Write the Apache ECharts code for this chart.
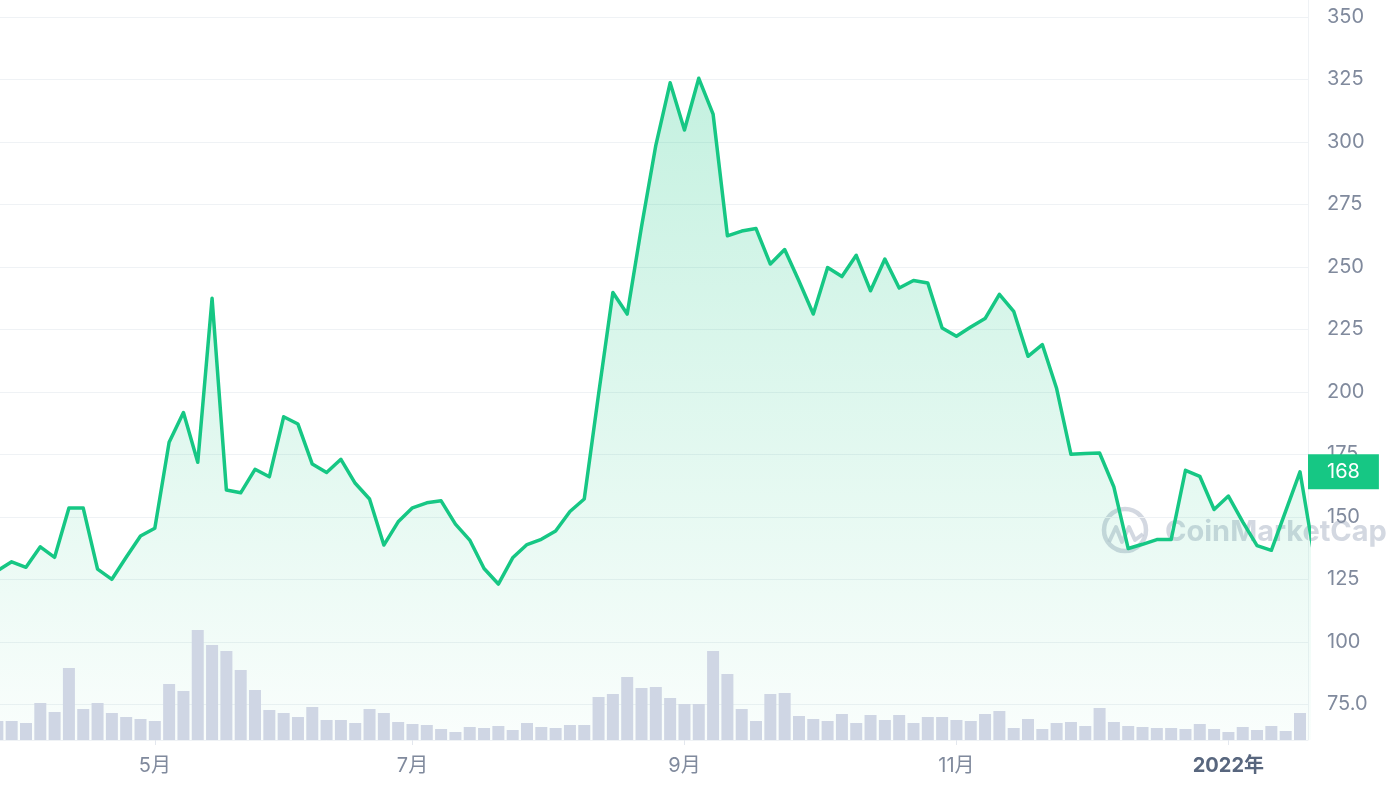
<!DOCTYPE html>
<html><head><meta charset="utf-8">
<script src="https://cdn.jsdelivr.net/npm/echarts@6/dist/echarts.min.js"></script>
<style>html,body{margin:0;padding:0;background:#fff}#c{width:1392px;height:792px}</style>
</head><body><div id="c"></div>
<script>
// Price per data point (index 0..92; last point falls just outside the visible window)
const prices = [128.4,132.0,129.8,138.0,133.8,153.5,153.5,129.1,125.0,133.8,
  142.3,145.4,179.8,191.7,171.8,237.4,160.7,159.6,169.0,166.0,
  190.0,187.1,171.1,167.7,173.0,163.4,157.1,138.7,148.0,153.6,
  155.6,156.4,147.1,140.7,129.3,123.1,133.6,138.9,141.0,144.3,
  152.1,157.1,199.0,239.7,231.1,266.0,298.6,323.6,304.7,325.4,
  311.1,262.4,264.3,265.3,251.1,256.9,244.3,231.1,249.7,246.1,
  254.6,240.4,253.1,241.5,244.5,243.5,225.5,222.2,225.9,229.3,
  239.0,232.2,214.2,218.9,201.3,175.0,175.3,175.5,161.9,137.3,
  139.0,140.9,140.9,168.6,166.2,152.9,158.3,148.0,138.5,136.6,
  152.3,168.0,134.0];
// Volume per data point (relative units)
const volumes = [19,19,17,37,28,72,31,37,27,23,21,19,56,49,110,95,89,70,50,30,27,23,33,20,
  20,17,31,27,18,16,15,11,8,13,12,14,10,17,13,12,15,15,43,46,63,52,53,
  42,36,36,89,66,31,19,46,47,24,21,19,26,17,25,20,25,17,23,23,20,19,26,
  29,12,21,11,17,18,14,32,18,14,13,12,12,11,16,11,8,13,10,14,9,27];
// X-axis tick labels at data-point indices
const tickIdx = [11, 29, 48, 67, 86];
const tickLabels = ['5月', '7月', '9月', '11月', '2022年'];
const currentPrice = 168;

const GREEN = '#16c784';
const GRAY = '#808a9d';
const FONT = 'Inter, "Noto Sans CJK SC", sans-serif';
const X_MIN = 0.185, X_MAX = 91.56;

const chart = echarts.init(document.getElementById('c'), null, {renderer: 'canvas'});
const priceData = prices.map((v, i) => [i, v]);
const volData = volumes.map((v, i) => [i, v]);

chart.setOption({
  animation: false,
  backgroundColor: '#ffffff',
  textStyle: {fontFamily: FONT},
  grid: [
    {left: 0, right: 84, top: 16.8, bottom: 25.2},
    {left: 0, right: 84, bottom: 52, height: 120}
  ],
  xAxis: [
    {gridIndex: 0, type: 'value', min: X_MIN, max: X_MAX, show: false},
    {gridIndex: 1, type: 'value', min: X_MIN, max: X_MAX,
      axisLine: {show: true, lineStyle: {color: '#eff2f5', width: 1}},
      axisTick: {show: true, customValues: tickIdx, length: 5, lineStyle: {color: '#e3e7ee'}},
      axisLabel: {show: true, customValues: tickIdx, margin: 16, color: GRAY, fontSize: 20,
        fontFamily: FONT,
        formatter: v => {
          const k = tickIdx.indexOf(Math.round(v));
          if (k < 0) return '';
          const t = tickLabels[k];
          return t.indexOf('年') >= 0 ? '{b|' + t + '}' : t;
        },
        rich: {b: {fontWeight: 'bold', color: '#58667e', fontSize: 20, fontFamily: FONT}}
      },
      splitLine: {show: false}
    }
  ],
  yAxis: [
    {gridIndex: 0, type: 'value', position: 'right', min: 50, max: 350, interval: 25,
      axisLine: {show: false}, axisTick: {show: false},
      axisLabel: {margin: 19, color: GRAY, fontSize: 20, fontFamily: FONT,
        formatter: v => v <= 50 ? '' : (v < 100 ? v.toFixed(1) : String(v))},
      splitLine: {show: true, showMinLine: false, lineStyle: {color: '#eff2f5', width: 1}}
    },
    {gridIndex: 1, type: 'value', min: 0, max: 120, show: false, splitLine: {show: false}}
  ],
  series: [
    {
      type: 'line', xAxisIndex: 0, yAxisIndex: 0, data: priceData,
      symbol: 'none', clip: true, z: 2,
      lineStyle: {color: GREEN, width: 3.5, join: 'round'},
      areaStyle: {
        origin: 60.72,
        color: new echarts.graphic.LinearGradient(0, 0, 0, 1, [
          {offset: 0, color: 'rgba(22,199,132,0.36)'},
          {offset: 1, color: 'rgba(22,199,132,0.03)'}
        ])
      }
    },
    {
      type: 'bar', xAxisIndex: 1, yAxisIndex: 1, data: volData,
      barWidth: 12, z: 3, clip: true,
      itemStyle: {color: '#cfd6e4'}
    },
    {
      type: 'scatter', xAxisIndex: 0, yAxisIndex: 0, clip: false, z: 20, silent: true,
      data: [[X_MAX, currentPrice]], symbolSize: 0,
      itemStyle: {opacity: 1},
      label: {show: true, position: 'right', distance: 0, opacity: 1,
        formatter: () => String(currentPrice),
        backgroundColor: GREEN, color: '#ffffff', fontSize: 20, fontFamily: FONT,
        padding: [6, 19, 6, 19], lineHeight: 23}
    }
  ],
  graphic: [
    {type: 'line', z: 1, silent: true,
      shape: {x1: 1308.5, y1: 0, x2: 1308.5, y2: 740},
      style: {stroke: '#eff2f5', lineWidth: 1}},
    {type: 'group', z: 100, silent: true, children: [
      {type: 'circle', shape: {cx: 1125, cy: 530, r: 21},
        style: {fill: 'none', stroke: '#c0c7d4', lineWidth: 4.5, opacity: 0.7}},
      {type: 'polyline', shape: {points: [[1109, 542], [1116, 527], [1122, 542], [1129, 527], [1135, 540], [1143, 534]]},
        style: {fill: 'none', stroke: '#c0c7d4', lineWidth: 4, opacity: 0.7, lineJoin: 'round'}},
      {type: 'text', x: 1165, y: 532,
        style: {text: 'CoinMarketCap', fill: '#c0c7d4', opacity: 0.7,
          font: 'bold 29px Inter, sans-serif', verticalAlign: 'middle', align: 'left'}}
    ]}
  ]
});
</script>
</body></html>
